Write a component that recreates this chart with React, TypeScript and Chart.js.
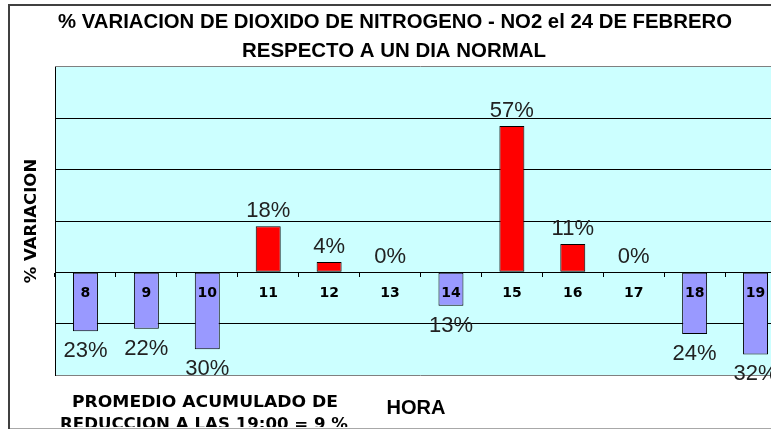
import React, { useEffect, useRef } from 'react';
import { Chart, registerables } from 'chart.js';

Chart.register(...registerables);

// ---- data ----
const hours: string[] = ['8', '9', '10', '11', '12', '13', '14', '15', '16', '17', '18', '19'];
const variation: number[] = [-23, -22, -30, 18, 4, 0, -13, 57, 11, 0, -24, -32];
const yMin = -40;
const yMax = 80;
const yStep = 20;

const titleLines: string[] = [
  '% VARIACION DE DIOXIDO DE NITROGENO - NO2 el 24 DE FEBRERO',
  'RESPECTO A UN DIA NORMAL',
];
const yTitle = '% VARIACION';
const xTitle = 'HORA';
const noteLines: string[] = ['PROMEDIO ACUMULADO DE', 'REDUCCION A LAS 19:00 = 9 %'];

// ---- styles ----
const POS_COLOR = '#FF0000';
const NEG_COLOR = '#9999FF';
const PLOT_BG = '#CCFFFF';
const NARROW = '"Liberation Sans Narrow", "Liberation Sans", Arial, sans-serif';
const WIDE = '"DejaVu Sans", Verdana, sans-serif';
const CANVAS_W = 800;
const CANVAS_H = 429;

function drawFitted(
  ctx: CanvasRenderingContext2D,
  text: string,
  font: string,
  cx: number,
  baseline: number,
  width: number,
  color = '#000'
) {
  ctx.save();
  ctx.font = font;
  ctx.fillStyle = color;
  ctx.textAlign = 'center';
  ctx.textBaseline = 'alphabetic';
  const w = ctx.measureText(text).width;
  const s = width > 0 ? width / w : 1;
  ctx.translate(cx, baseline);
  ctx.scale(s, 1);
  ctx.fillText(text, 0, 0);
  ctx.restore();
}

const backgroundPlugin = {
  id: 'bgPlot',
  beforeDraw(chart: any) {
    const { ctx, chartArea, width, height } = chart;
    const { left, top, right, bottom } = chartArea;
    ctx.save();
    ctx.fillStyle = '#FFFFFF';
    ctx.fillRect(0, 0, width, height);
    ctx.fillStyle = PLOT_BG;
    ctx.fillRect(left, top, right - left, bottom - top);
    ctx.strokeStyle = '#808080';
    ctx.lineWidth = 1;
    ctx.beginPath();
    ctx.moveTo(left, Math.round(top) - 0.5);
    ctx.lineTo(right, Math.round(top) - 0.5);
    ctx.moveTo(left, Math.round(bottom) + 0.5);
    ctx.lineTo(right, Math.round(bottom) + 0.5);
    ctx.stroke();
    ctx.restore();
  },
};

const valueLabelPlugin = {
  id: 'valueLabels',
  afterDatasetsDraw(chart: any) {
    const { ctx } = chart;
    const meta = chart.getDatasetMeta(0);
    ctx.save();
    ctx.font = `22px "Liberation Sans", Arial, sans-serif`;
    ctx.fillStyle = '#222222';
    ctx.textAlign = 'center';
    ctx.textBaseline = 'alphabetic';
    meta.data.forEach((bar: any, i: number) => {
      const v = variation[i];
      const text = `${Math.abs(v)}%`;
      if (v >= 0) {
        ctx.fillText(text, bar.x, bar.y - 9);
      } else {
        ctx.fillText(text, bar.x, bar.y + 26);
      }
    });
    ctx.restore();
  },
};

const textPlugin = {
  id: 'texts',
  afterDraw(chart: any) {
    const { ctx, width } = chart;
    // titles
    drawFitted(ctx, titleLines[0], `bold 21px ${NARROW}`, 395, 28, 674);
    drawFitted(ctx, titleLines[1], `bold 21px ${NARROW}`, 394, 57, 304);
    // x title
    drawFitted(ctx, xTitle, `bold 20px ${NARROW}`, 416, 414, 59);
    // notes
    drawFitted(ctx, noteLines[0], `bold 15px ${WIDE}`, 205, 407, 266);
    drawFitted(ctx, noteLines[1], `bold 15px ${WIDE}`, 204, 429, 288);
    // y title (rotated)
    ctx.save();
    ctx.translate(36, 221);
    ctx.rotate(-Math.PI / 2);
    ctx.font = `bold 16.5px ${WIDE}`;
    ctx.fillStyle = '#000';
    ctx.textAlign = 'center';
    ctx.textBaseline = 'alphabetic';
    ctx.fillText(yTitle, 0, 0);
    ctx.restore();
    // outer frame
    ctx.save();
    ctx.fillStyle = '#FFFFFF';
    ctx.fillRect(0, 427, width, 1);
    ctx.fillStyle = '#A8A8A8';
    ctx.fillRect(8, 428, width, 1);
    ctx.fillStyle = '#404040';
    ctx.fillRect(8, 4, width, 2);
    ctx.fillRect(8, 4, 2, 425);
    ctx.restore();
  },
};

export default function App() {
  const canvasRef = useRef<HTMLCanvasElement | null>(null);

  useEffect(() => {
    const canvas = canvasRef.current;
    if (!canvas) return;
    const chart = new Chart(canvas, {
      type: 'bar',
      data: {
        labels: hours,
        datasets: [
          {
            data: variation,
            backgroundColor: variation.map((v) => (v < 0 ? NEG_COLOR : POS_COLOR)),
            borderColor: '#000000',
            borderWidth: 1,
            borderSkipped: false,
            barPercentage: 0.41,
            categoryPercentage: 1,
          },
        ],
      },
      options: {
        responsive: false,
        animation: false,
        devicePixelRatio: 1,
        layout: { padding: { left: 55, right: CANVAS_W - 786, top: 67, bottom: CANVAS_H - 375 } },
        plugins: {
          legend: { display: false },
          tooltip: { enabled: false },
          title: { display: false },
        },
        scales: {
          x: {
            position: { y: 0 } as any,
            offset: true,
            grid: {
              offset: true,
              drawOnChartArea: false,
              drawTicks: true,
              tickLength: 4,
              color: '#000000',
            },
            border: { display: true, color: '#000000', width: 1 },
            ticks: {
              z: 1,
              padding: 9,
              color: '#000000',
              autoSkip: false,
              maxRotation: 0,
              font: { family: WIDE, size: 14, weight: 'bold' },
            },
          },
          y: {
            min: yMin,
            max: yMax,
            ticks: { display: false, stepSize: yStep },
            grid: {
              drawTicks: false,
              color: (c: any) =>
                c.tick && (c.tick.value === yMax || c.tick.value === yMin) ? 'rgba(0,0,0,0)' : '#000000',
            },
            border: { display: true, color: '#000000', width: 1 },
            afterFit: (s: any) => {
              s.width = 0;
            },
          },
        },
      },
      plugins: [backgroundPlugin, valueLabelPlugin, textPlugin],
    });
    return () => chart.destroy();
  }, []);

  return (
    <div
      style={{
        position: 'fixed',
        left: 0,
        top: 0,
        width: 771,
        height: 429,
        overflow: 'hidden',
        background: '#fff',
      }}
    >
      <canvas ref={canvasRef} width={CANVAS_W} height={CANVAS_H} style={{ display: 'block' }} />
    </div>
  );
}
